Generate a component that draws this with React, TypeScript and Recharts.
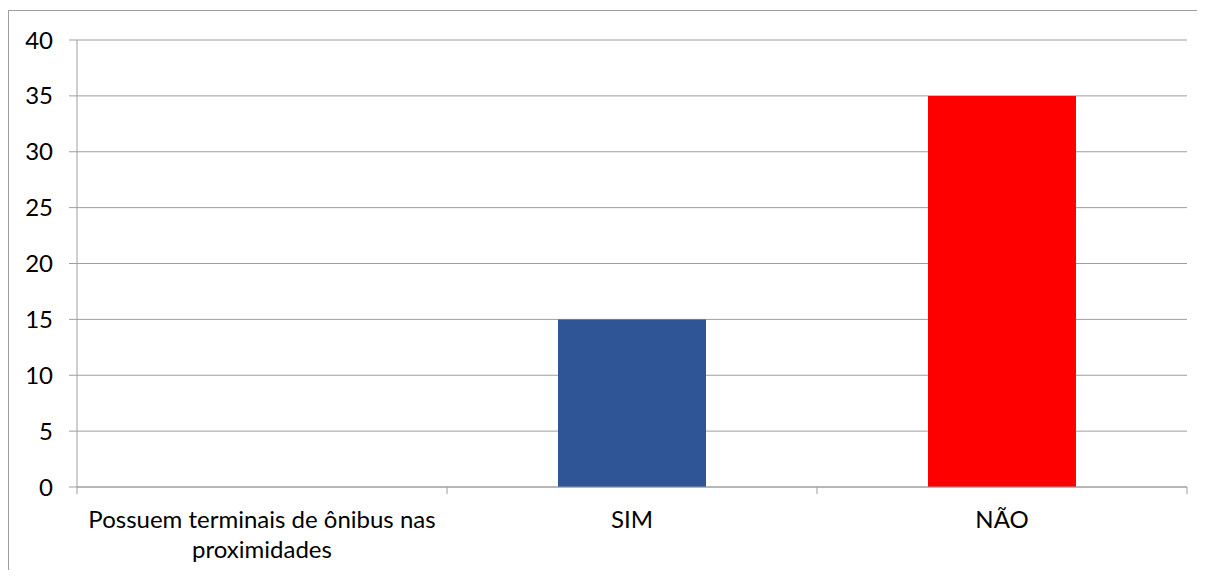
import { BarChart, Bar, XAxis, YAxis, CartesianGrid, Cell } from 'recharts';

const categories = ['Possuem terminais de ônibus nas proximidades', 'SIM', 'NÃO'];
const values = [0, 15, 35];
const barColors = ['#2F5597', '#2F5597', '#FF0000'];
const yTicks = [0, 5, 10, 15, 20, 25, 30, 35, 40];
const boundaryTicks = [0, 1, 2, 3];

const FONT = 'Lato, "Open Sans", sans-serif';
const GRAY = '#9E9E9E';
const FONT_SIZE = 24;
const MAX_CHARS = 32;

const data = categories.map((name, i) => ({ name, value: values[i], pos: i + 0.5 }));

// simple word wrap, Excel-style
function wrap(label: string) {
  const lines: string[] = [];
  let cur = '';
  label.split(' ').forEach((w) => {
    const next = cur ? cur + ' ' + w : w;
    if (next.length > MAX_CHARS && cur) {
      lines.push(cur);
      cur = w;
    } else {
      cur = next;
    }
  });
  if (cur) lines.push(cur);
  return lines;
}

function CategoryTick({ x, y, payload }: any) {
  const lines = wrap(String(payload.value));
  return (
    <text
      x={x}
      y={y}
      textAnchor="middle"
      fill="#000"
      style={{ fontFamily: FONT, fontSize: FONT_SIZE }}
    >
      {lines.map((l, i) => (
        <tspan key={i} x={x} dy={i === 0 ? '0.8em' : 30}>
          {l}
        </tspan>
      ))}
    </text>
  );
}

export default function App() {
  return (
    <div
      style={{
        marginTop: 2,
        width: 1197,
        height: 559,
        borderLeft: `1px solid ${GRAY}`,
        borderTop: `1px solid ${GRAY}`,
        background: '#fff',
      }}
    >
      <BarChart
        width={1196}
        height={559}
        data={data}
        margin={{ top: 29, right: 18, left: 0, bottom: 3 }}
        barCategoryGap="30%"
      >
        <CartesianGrid stroke={GRAY} vertical={false} />
        <XAxis
          xAxisId="bounds"
          type="number"
          dataKey="pos"
          domain={[0, 3]}
          ticks={boundaryTicks}
          interval={0}
          tick={() => <g />}
          tickSize={7}
          height={8}
          axisLine={{ stroke: GRAY }}
          tickLine={{ stroke: GRAY }}
        />
        <XAxis
          xAxisId="cat"
          dataKey="name"
          type="category"
          height={72}
          axisLine={false}
          tickLine={false}
          interval={0}
          tickMargin={8}
          tick={<CategoryTick />}
        />
        <YAxis
          width={68}
          domain={[0, 40]}
          ticks={yTicks}
          interval={0}
          tickSize={8}
          tickMargin={16}
          axisLine={{ stroke: GRAY }}
          tickLine={{ stroke: GRAY }}
          tick={{ fill: '#000', fontSize: FONT_SIZE, fontFamily: FONT }}
        />
        <Bar dataKey="value" xAxisId="cat" isAnimationActive={false}>
          {data.map((d, i) => (
            <Cell key={d.name} fill={barColors[i]} />
          ))}
        </Bar>
      </BarChart>
    </div>
  );
}
